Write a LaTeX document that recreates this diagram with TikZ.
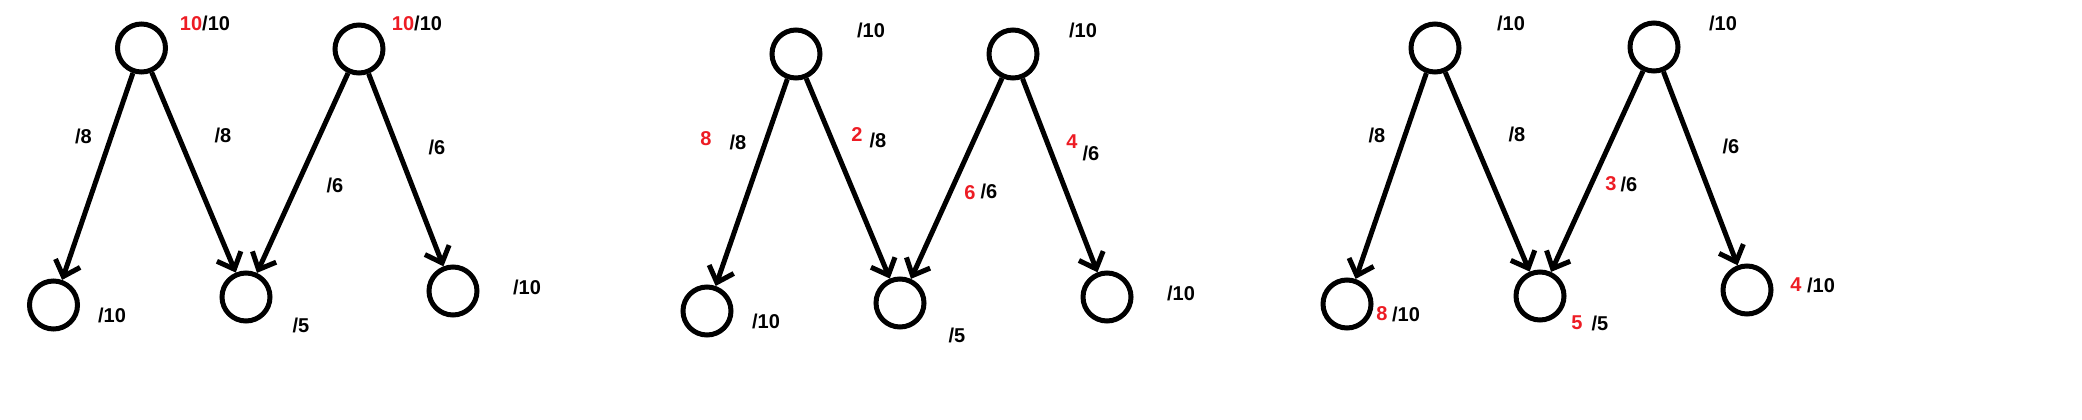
\documentclass[tikz,border=0pt]{standalone}
\usepackage{fontspec}
\setmainfont{Liberation Sans}
\usetikzlibrary{arrows.meta}
\definecolor{paintred}{RGB}{237,28,36}

\begin{document}
\begin{tikzpicture}[x=1pt,y=-1pt,->,>={Straight Barb[length=14pt,width=26pt]},
                    line width=5pt,main node/.style={circle,draw,minimum size=48pt,inner sep=0pt},
                    cap label/.style={font=\fontsize{20}{24}\selectfont\bfseries,inner sep=0pt},
                    flow label/.style={cap label,text=paintred}]
  \useasboundingbox (0,0) rectangle (2082,420);

  % capacities only
  \node[main node] (a1) at (141.5,48) {};
  \node[main node] (b1) at (359,49) {};
  \node[main node] (c1) at (53.5,305) {};
  \node[main node] (d1) at (246,297) {};
  \node[main node] (e1) at (453,291) {};

  \path
    (a1) edge (c1)
         edge (d1)
    (b1) edge (d1)
         edge (e1);

  \node[cap label] (ka1) at (205,23) {{\color{paintred}10}/10};
  \node[cap label] (kb1) at (417,23) {{\color{paintred}10}/10};
  \node[cap label] (kac1) at (83.5,136) {/8};
  \node[cap label] (kad1) at (223,135) {/8};
  \node[cap label] (kbd1) at (335,185) {/6};
  \node[cap label] (kbe1) at (437,147) {/6};
  \node[cap label] (kc1) at (112,315) {/10};
  \node[cap label] (kd1) at (301,325) {/5};
  \node[cap label] (ke1) at (527,287) {/10};

  % flow on the edges
  \node[main node] (a2) at (796,54) {};
  \node[main node] (b2) at (1013,54) {};
  \node[main node] (c2) at (707,311) {};
  \node[main node] (d2) at (900,303) {};
  \node[main node] (e2) at (1107,297) {};

  \path
    (a2) edge (c2)
         edge (d2)
    (b2) edge (d2)
         edge (e2);

  \node[cap label] (ka2) at (871,30) {/10};
  \node[cap label] (kb2) at (1083,30) {/10};
  \node[flow label] (fac2) at (706,139) {8};
  \node[cap label] (kac2) at (738,142) {/8};
  \node[flow label] (fad2) at (857,135) {2};
  \node[cap label] (kad2) at (878,140) {/8};
  \node[flow label] (fbd2) at (970,193) {6};
  \node[cap label] (kbd2) at (989,191) {/6};
  \node[flow label] (fbe2) at (1072,142) {4};
  \node[cap label] (kbe2) at (1091,153) {/6};
  \node[cap label] (kc2) at (766,321) {/10};
  \node[cap label] (kd2) at (957,335) {/5};
  \node[cap label] (ke2) at (1181,293) {/10};

  % what arrives at the sinks
  \node[main node] (a3) at (1435,48) {};
  \node[main node] (b3) at (1654,47) {};
  \node[main node] (c3) at (1347,304) {};
  \node[main node] (d3) at (1540,296) {};
  \node[main node] (e3) at (1747,290) {};

  \path
    (a3) edge (c3)
         edge (d3)
    (b3) edge (d3)
         edge (e3);

  \node[cap label] (ka3) at (1511,23) {/10};
  \node[cap label] (kb3) at (1723,23) {/10};
  \node[cap label] (kac3) at (1377,135) {/8};
  \node[cap label] (kad3) at (1517,134) {/8};
  \node[flow label] (fbd3) at (1611,184) {3};
  \node[cap label] (kbd3) at (1629,184) {/6};
  \node[cap label] (kbe3) at (1731,146) {/6};
  \node[flow label] (fc3) at (1382,314) {8};
  \node[cap label] (kc3) at (1406,314) {/10};
  \node[flow label] (fd3) at (1577,323) {5};
  \node[cap label] (kd3) at (1600,323) {/5};
  \node[flow label] (fe3) at (1796,285) {4};
  \node[cap label] (ke3) at (1821,285) {/10};
\end{tikzpicture}
\end{document}
